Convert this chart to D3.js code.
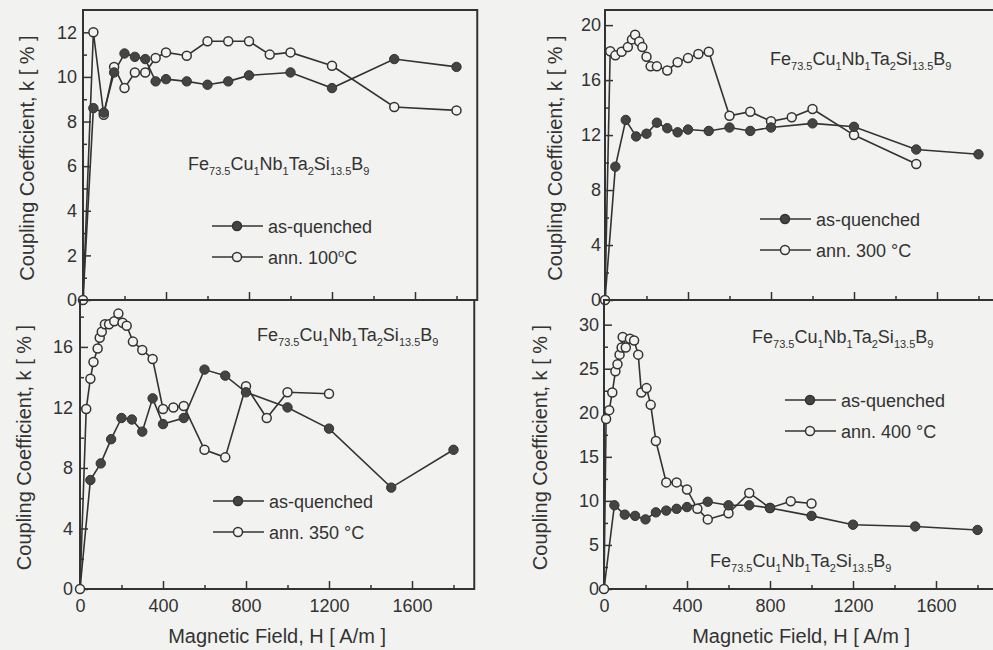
<!DOCTYPE html>
<html>
<head>
<meta charset="utf-8">
<script src="https://cdn.jsdelivr.net/npm/d3@7"></script>
<style>
  body { margin: 0; background: #f2f2f0; }
  svg { display: block; font-family: Arial, "Liberation Sans", sans-serif; }
</style>
</head>
<body>
<div id="chart"></div>
<script>
// Magnetic field values (A/m) and coupling coefficient k (%) per panel
const hQuenched = [0, 50, 100, 150, 200, 250, 300, 350, 400, 500, 600, 700, 800, 1000, 1200, 1500, 1800];

// panel a: as-quenched vs annealed 100 C
const kQuenched1 = [0, 8.6, 8.4, 10.2, 11.05, 10.9, 10.8, 9.8, 9.9, 9.8, 9.65, 9.8, 10.07, 10.2, 9.5, 10.8, 10.45];
const hAnn100 = [0, 50, 100, 150, 200, 250, 300, 350, 400, 500, 600, 700, 800, 900, 1000, 1200, 1500, 1800];
const kAnn100 = [0, 12.0, 8.3, 10.45, 9.5, 10.2, 10.2, 10.85, 11.1, 10.95, 11.6, 11.6, 11.6, 11.0, 11.1, 10.5, 8.65, 8.5];

// panel b: annealed 300 C
const kQuenched2 = [0, 9.7, 13.1, 11.9, 12.1, 12.9, 12.5, 12.2, 12.4, 12.3, 12.55, 12.3, 12.55, 12.85, 12.6, 10.95, 10.6];
const hAnn300 = [0, 25, 50, 80, 110, 130, 145, 165, 180, 200, 220, 250, 300, 350, 400, 450, 500, 600, 700, 800, 900, 1000, 1200, 1500];
const kAnn300 = [0, 18.1, 17.8, 18.06, 18.4, 18.96, 19.3, 18.8, 18.4, 17.7, 17.0, 17.0, 16.7, 17.3, 17.6, 17.9, 18.06, 13.4, 13.7, 13.0, 13.3, 13.9, 12.0, 9.9];

// panel c: annealed 350 C
const kQuenched3 = [0, 7.2, 8.3, 9.9, 11.3, 11.2, 10.4, 12.6, 10.9, 11.3, 14.5, 14.1, 13.0, 12.0, 10.6, 6.7, 9.2];
const hAnn350 = [0, 30, 50, 65, 85, 95, 105, 120, 140, 165, 185, 205, 225, 255, 300, 350, 400, 450, 500, 600, 700, 800, 900, 1000, 1200];
const kAnn350 = [0, 11.9, 13.9, 15.0, 15.9, 16.6, 17.0, 17.5, 17.5, 17.7, 18.2, 17.6, 17.4, 16.35, 15.8, 15.2, 11.9, 12.0, 12.1, 9.2, 8.7, 13.4, 11.3, 13.0, 12.9];

// panel d: annealed 400 C
const kQuenched4 = [0, 9.5, 8.44, 8.3, 7.9, 8.7, 8.9, 9.1, 9.3, 9.9, 9.5, 9.5, 9.2, 8.3, 7.3, 7.1, 6.7];
const hAnn400 = [0, 10, 25, 40, 55, 65, 75, 85, 90, 105, 125, 145, 165, 180, 205, 225, 250, 300, 350, 400, 450, 500, 600, 700, 800, 900, 1000];
const kAnn400 = [0, 19.3, 20.3, 22.3, 24.7, 25.5, 26.6, 27.4, 28.6, 27.4, 28.4, 28.2, 26.6, 22.3, 22.8, 20.9, 16.8, 12.1, 12.1, 11.3, 9.1, 7.9, 8.6, 10.9, 9.2, 9.95, 9.7];

const xTicks = [0, 400, 800, 1200, 1600];
const xMinorTicks = [200, 600, 1000, 1400, 1800];
const formulaParts = [["Fe", "73.5"], ["Cu", "1"], ["Nb", "1"], ["Ta", "2"], ["Si", "13.5"], ["B", "9"]];
const legendLabels = ["as-quenched", "ann. "];
const yTitle = "Coupling Coefficient, k [ % ]";
const xTitle = "Magnetic Field, H [ A/m ]";

const width = 993, height = 650;
const ink = "#333";
const bg = "#f2f2f0";
const xMax = 1900;

const panels = [
  { left: 83, top: 10, bottom: 300, yMax: 13, yTicks: [0, 2, 4, 6, 8, 10, 12], yMinor: [1, 3, 5, 7, 9, 11],
    q: kQuenched1, ha: hAnn100, ka: kAnn100, temp: "100", supDeg: true, xLabels: false, gap: 6,
    formulas: [[188, 170]], legend: [212, 226], yTitleX: 27 },
  { left: 605, top: 10, bottom: 300, yMax: 21.1, yTicks: [0, 4, 8, 12, 16, 20], yMinor: [2, 6, 10, 14, 18],
    q: kQuenched2, ha: hAnn300, ka: kAnn300, temp: "300", supDeg: false, xLabels: false, gap: 4,
    formulas: [[770, 65]], legend: [760, 219], yTitleX: 555 },
  { left: 80, top: 300, bottom: 589, yMax: 19.1, yTicks: [0, 4, 8, 12, 16], yMinor: [2, 6, 10, 14, 18],
    q: kQuenched3, ha: hAnn350, ka: kAnn350, temp: "350", supDeg: false, xLabels: true, gap: 7,
    formulas: [[257, 341]], legend: [213, 501], yTitleX: 24 },
  { left: 604, top: 300, bottom: 589, yMax: 32.8, yTicks: [0, 5, 10, 15, 20, 25, 30], yMinor: [2.5, 7.5, 12.5, 17.5, 22.5, 27.5],
    q: kQuenched4, ha: hAnn400, ka: kAnn400, temp: "400", supDeg: false, xLabels: true, gap: 5,
    formulas: [[752, 343], [710, 567]], legend: [785, 400], yTitleX: 540 }
];

const svg = d3.select("#chart")
    .append("svg")
    .attr("width", width)
    .attr("height", height);

svg.append("rect").attr("width", width).attr("height", height).attr("fill", bg);

function drawFormula(g, x0, y0) {
  const t = g.append("text")
      .attr("x", x0).attr("y", y0)
      .attr("fill", ink)
      .style("font-size", "18px");
  formulaParts.forEach(([el, n], i) => {
    t.append("tspan").attr("dy", i === 0 ? 0 : -5).text(el);
    t.append("tspan").attr("dy", 5).style("font-size", "11px").text(n);
  });
}

function drawPanel(p) {
  const x = d3.scaleLinear().domain([0, xMax]).range([p.left, p.left + xMax * 0.2075]);
  const y = d3.scaleLinear().domain([0, p.yMax]).range([p.bottom, p.top]);
  const g = svg.append("g");

  // frame
  g.append("rect")
      .attr("x", x(0)).attr("y", y(p.yMax))
      .attr("width", x(xMax) - x(0)).attr("height", y(0) - y(p.yMax))
      .attr("fill", "none").attr("stroke", ink).attr("stroke-width", 2);

  // x axis, ticks pointing inward
  g.append("g")
      .attr("transform", `translate(0,${y(0)})`)
      .call(d3.axisBottom(x).tickValues(xTicks).tickSizeInner(-8).tickSizeOuter(0).tickPadding(10)
        .tickFormat(p.xLabels ? d3.format("d") : () => ""));
  g.append("g")
      .attr("transform", `translate(0,${y(0)})`)
      .call(d3.axisBottom(x).tickValues(xMinorTicks).tickSizeInner(-4).tickSizeOuter(0).tickFormat(() => ""));

  // y axis
  g.append("g")
      .attr("transform", `translate(${x(0)},0)`)
      .call(d3.axisLeft(y).tickValues(p.yTicks).tickSizeInner(-8).tickSizeOuter(0).tickPadding(p.gap)
        .tickFormat(d3.format("d")));
  g.append("g")
      .attr("transform", `translate(${x(0)},0)`)
      .call(d3.axisLeft(y).tickValues(p.yMinor).tickSizeInner(-4).tickSizeOuter(0).tickFormat(() => ""));

  g.selectAll(".domain").remove();
  g.selectAll(".tick line").attr("stroke", ink).attr("stroke-width", 1.5);
  g.selectAll(".tick text")
      .attr("fill", ink)
      .style("font-size", "18px")
      .style("font-family", "Arial, 'Liberation Sans', sans-serif");

  const line = d3.line().x(d => x(d[0])).y(d => y(d[1]));
  const quenched = d3.zip(hQuenched, p.q);
  const annealed = d3.zip(p.ha, p.ka);

  g.append("path").datum(annealed).attr("d", line)
      .attr("fill", "none").attr("stroke", ink).attr("stroke-width", 1.6);
  g.append("path").datum(quenched).attr("d", line)
      .attr("fill", "none").attr("stroke", ink).attr("stroke-width", 1.6);

  g.selectAll(".open").data(annealed).enter().append("circle")
      .attr("cx", d => x(d[0])).attr("cy", d => y(d[1])).attr("r", 4.5)
      .attr("fill", bg).attr("stroke", ink).attr("stroke-width", 1.5);
  g.selectAll(".filled").data(quenched.slice(1)).enter().append("circle")
      .attr("cx", d => x(d[0])).attr("cy", d => y(d[1])).attr("r", 4.7)
      .attr("fill", "#444").attr("stroke", ink).attr("stroke-width", 1);

  // formula labels
  p.formulas.forEach(f => drawFormula(g, f[0], f[1]));

  // legend
  const [lx, ly] = p.legend;
  [0, 1].forEach(i => {
    const cy = ly + i * 31;
    g.append("line").attr("x1", lx).attr("x2", lx + 51).attr("y1", cy).attr("y2", cy)
        .attr("stroke", ink).attr("stroke-width", 1.6);
    g.append("circle").attr("cx", lx + 25).attr("cy", cy).attr("r", 4.5)
        .attr("fill", i === 0 ? "#444" : bg).attr("stroke", ink).attr("stroke-width", 1.5);
    const t = g.append("text").attr("x", lx + 56).attr("y", cy + 6.5)
        .attr("fill", ink).style("font-size", "18px");
    if (i === 0) {
      t.text(legendLabels[0]);
    } else if (p.supDeg) {
      t.append("tspan").text(legendLabels[1] + p.temp);
      t.append("tspan").attr("dy", -7).style("font-size", "11px").text("o");
      t.append("tspan").attr("dy", 7).text("C");
    } else {
      t.text(legendLabels[1] + p.temp + " \u00B0C");
    }
  });

  // axis titles
  g.append("text")
      .attr("transform", `translate(${p.yTitleX},${(y(0) + y(p.yMax)) / 2 + 3}) rotate(-90)`)
      .attr("text-anchor", "middle").attr("dominant-baseline", "central")
      .attr("fill", ink).style("font-size", "20px")
      .text(yTitle);
  if (p.xLabels) {
    g.append("text")
        .attr("x", x(950)).attr("y", 643)
        .attr("text-anchor", "middle")
        .attr("fill", ink).style("font-size", "20px")
        .text(xTitle);
  }
}

panels.forEach(drawPanel);
</script>
</body>
</html>
